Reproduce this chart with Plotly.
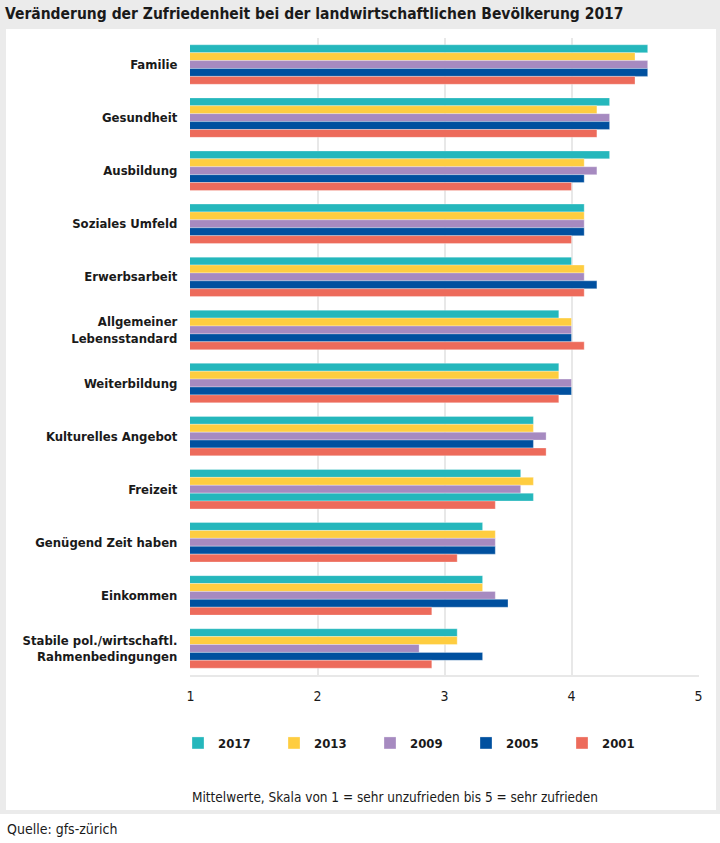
import plotly.graph_objects as go

# ---- data ----
categories = [
    "Familie", "Gesundheit", "Ausbildung", "Soziales Umfeld", "Erwerbsarbeit",
    "Allgemeiner<br>Lebensstandard", "Weiterbildung", "Kulturelles Angebot",
    "Freizeit", "Genügend Zeit haben", "Einkommen",
    "Stabile pol./wirtschaftl.<br>Rahmenbedingungen",
]
years = ["2017", "2013", "2009", "2005", "2001"]
v2017 = [4.6, 4.3, 4.3, 4.1, 4.0, 3.9, 3.9, 3.7, 3.6, 3.3, 3.3, 3.1]
v2013 = [4.5, 4.2, 4.1, 4.1, 4.1, 4.0, 3.9, 3.7, 3.7, 3.4, 3.3, 3.1]
v2009 = [4.6, 4.3, 4.2, 4.1, 4.1, 4.0, 4.0, 3.8, 3.6, 3.4, 3.4, 2.8]
v2005 = [4.6, 4.3, 4.1, 4.1, 4.2, 4.0, 4.0, 3.7, 3.7, 3.4, 3.5, 3.3]
v2001 = [4.5, 4.2, 4.0, 4.0, 4.1, 4.1, 3.9, 3.8, 3.4, 3.1, 2.9, 2.9]
series = [v2017, v2013, v2009, v2005, v2001]
x_ticks = [1, 2, 3, 4, 5]

colors = ["#25b7bc", "#fecd40", "#a68ac0", "#00509f", "#ed6b5b"]

W, H = 720, 843
L, R, T, B = 190, 21, 38, 168
PW, PH = W - L - R, H - T - B

def px(x):
    return (x - L) / PW

def py(y):
    return (H - B - y) / PH

FONT = "DejaVu Sans Condensed, DejaVu Sans, sans-serif"
TXT = "#1a1a1a"

fig = go.Figure()
for i, (yr, vals) in enumerate(zip(years, series)):
    col = [colors[i]] * len(vals)
    if yr == "2005":
        # the source chart shows the 2005 Freizeit bar in teal
        col[categories.index("Freizeit")] = colors[0]
    fig.add_trace(go.Bar(
        y=categories, x=vals, name=f"<b>{yr}</b>", orientation="h",
        marker=dict(color=col, line=dict(color="rgba(255,255,255,0.5)", width=0.6)),
        hovertemplate="%{y}: %{x}<extra>" + yr + "</extra>",
    ))

fig.update_layout(
    width=W, height=H,
    margin=dict(l=L, r=R, t=T, b=B),
    paper_bgcolor="white", plot_bgcolor="rgba(0,0,0,0)",
    barmode="group", bargap=0.256, bargroupgap=0,
    font=dict(family=FONT, color=TXT, size=14),
    title=dict(
        text="<b>Veränderung der Zufriedenheit bei der landwirtschaftlichen Bevölkerung 2017</b>",
        x=5 / W, xref="container", xanchor="left",
        y=1 - 14 / H, yref="container", yanchor="middle",
        font=dict(size=15.5, family=FONT, color=TXT),
    ),
    xaxis=dict(
        range=[0.996, 5.004], tickvals=x_ticks, ticktext=[str(t) for t in x_ticks],
        showgrid=True, gridcolor="#e8e8e8", gridwidth=2,
        showline=True, linecolor="#e8e8e8", linewidth=2,
        zeroline=False, ticks="outside", ticklen=7, tickcolor="rgba(0,0,0,0)",
        tickfont=dict(size=14, family=FONT, color=TXT),
        fixedrange=True,
    ),
    yaxis=dict(
        autorange="reversed", showgrid=False, zeroline=False, showline=False,
        ticks="outside", ticklen=9, tickcolor="rgba(0,0,0,0)",
        tickfont=dict(size=13, family=FONT, color=TXT, weight="bold"),
        fixedrange=True,
    ),
    legend=dict(
        orientation="h", x=px(178), xanchor="left", y=py(743), yanchor="middle",
        entrywidth=51, entrywidthmode="pixels", traceorder="normal",
        font=dict(size=13, family=FONT, color=TXT),
        bgcolor="rgba(0,0,0,0)", itemclick=False, itemdoubleclick=False,
    ),
    shapes=[
        dict(type="rect", xref="paper", yref="paper", layer="below",
             x0=px(0), x1=px(W), y0=py(814), y1=py(0),
             fillcolor="#ebebeb", line=dict(width=0)),
        dict(type="rect", xref="paper", yref="paper", layer="below",
             x0=px(6), x1=px(716), y0=py(810), y1=py(29),
             fillcolor="white", line=dict(width=0)),
    ],
    annotations=[
        dict(text="Mittelwerte, Skala von 1 = sehr unzufrieden bis 5 = sehr zufrieden",
             xref="paper", yref="paper", x=px(190), y=py(797),
             xanchor="left", yanchor="middle", showarrow=False,
             font=dict(size=13.5, family=FONT, color=TXT)),
        dict(text="Quelle: gfs-zürich",
             xref="paper", yref="paper", x=px(5), y=py(829),
             xanchor="left", yanchor="middle", showarrow=False,
             font=dict(size=14, family=FONT, color=TXT)),
    ],
)

fig.write_html(
    "out.html",
    config={"displayModeBar": False},
    post_script="document.body.style.margin='0';document.body.style.padding='0';",
)
